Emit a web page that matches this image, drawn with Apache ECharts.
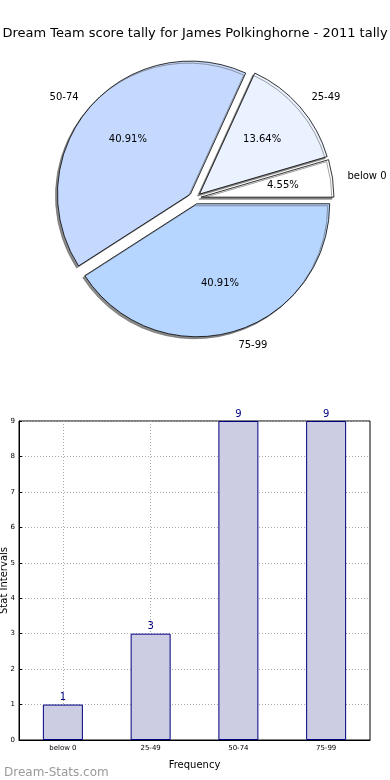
<!DOCTYPE html>
<html>
<head>
<meta charset="utf-8">
<script src="https://cdn.jsdelivr.net/npm/echarts@6/dist/echarts.min.js"></script>
<style>
html,body{margin:0;padding:0;background:#fff;}
#c{width:390px;height:780px;}
</style>
</head>
<body>
<div id="c"></div>
<script>
const categories = ['below 0', '25-49', '50-74', '75-99'];
const counts = [1, 3, 9, 9];
const pieColors = ['#ffffff', '#ebf2ff', '#c5d9ff', '#b6d5ff'];
const yTicks = [0, 1, 2, 3, 4, 5, 6, 7, 8, 9];

const chart = echarts.init(document.getElementById('c'), null, {renderer: 'canvas'});
const FONT = 'DejaVu Sans';
const total = counts.reduce((a, b) => a + b, 0);

const pieData = categories.map((c, i) => ({
  name: c, value: counts[i], selected: true,
  itemStyle: {color: pieColors[i]}
}));
const pieLabelData = categories.map((c, i) => ({name: c, value: counts[i], selected: true}));

const PIE_CENTER = [195, 198];
const PIE_R = 133;

const option = {
  animation: false,
  backgroundColor: '#ffffff',
  title: [
    {text: 'Dream Team score tally for James Polkinghorne - 2011 tally', left: 'center', top: 22,
     textStyle: {fontFamily: FONT, fontSize: 13, fontWeight: 'normal', color: '#000'}},
    {text: 'Dream-Stats.com', left: -1, top: 762,
     textStyle: {fontFamily: FONT, fontSize: 12, fontWeight: 'normal', color: '#999'}}
  ],
  grid: {left: 19, right: 20, top: 421, bottom: 40, containLabel: false, outerBoundsMode: 'none',
    show: true, borderColor: '#000', borderWidth: 1, backgroundColor: 'transparent'},
  xAxis: {
    type: 'category', data: categories,
    name: 'Frequency', nameLocation: 'middle', nameGap: 20, nameMoveOverlap: false,
    nameTextStyle: {fontFamily: FONT, fontSize: 10, color: '#000'},
    axisLine: {lineStyle: {color: '#000'}},
    axisTick: {alignWithLabel: true, inside: true, length: 3, lineStyle: {color: '#000'}},
    axisLabel: {fontFamily: FONT, fontSize: 7, color: '#000', margin: 5},
    splitLine: {show: true, alignWithLabel: true, lineStyle: {color: '#aaa', type: [1, 2], width: 1}}
  },
  yAxis: {
    type: 'value', min: 0, max: 9, interval: 1,
    name: 'Stat Intervals', nameLocation: 'middle', nameGap: 10, nameRotate: 90, nameMoveOverlap: false,
    nameTextStyle: {fontFamily: FONT, fontSize: 10, color: '#000'},
    axisLine: {show: true, lineStyle: {color: '#000'}},
    axisTick: {show: true, inside: true, length: 3, lineStyle: {color: '#000'}},
    axisLabel: {fontFamily: FONT, fontSize: 7, color: '#000', margin: 4,
      formatter: v => yTicks.includes(v) ? String(v) : ''},
    splitLine: {show: true, lineStyle: {color: '#aaa', type: [1, 2], width: 1}}
  },
  series: [
    {
      type: 'pie', center: PIE_CENTER, radius: [0, PIE_R],
      startAngle: 0, clockwise: false,
      selectedMode: 'multiple', selectedOffset: 6,
      avoidLabelOverlap: false,
      emphasis: {disabled: true},
      itemStyle: {borderColor: '#000', borderWidth: 0.8, shadowColor: 'rgba(90,90,90,0.7)', shadowOffsetX: -2, shadowOffsetY: 2, shadowBlur: 0},
      label: {show: true, position: 'outside', formatter: '{b}', fontFamily: FONT, fontSize: 10, color: '#000', distanceToLabelLine: 0},
      labelLine: {show: false, length: 15, length2: 0},
      data: pieData
    },
    {
      type: 'pie', center: PIE_CENTER, radius: [0, PIE_R * 1.2],
      startAngle: 0, clockwise: false,
      selectedMode: 'multiple', selectedOffset: 6,
      avoidLabelOverlap: false, silent: true,
      emphasis: {disabled: true},
      itemStyle: {color: 'rgba(0,0,0,0)', borderWidth: 0},
      label: {show: true, position: 'inside', fontFamily: FONT, fontSize: 10, color: '#000',
        formatter: p => (p.value / total * 100).toFixed(2) + '%'},
      labelLine: {show: false},
      data: pieLabelData
    },
    {
      type: 'bar', data: counts, barWidth: 40,
      itemStyle: {color: '#cccce3', borderColor: '#000080', borderWidth: 1},
      label: {show: true, position: 'top', distance: 2, fontFamily: FONT, fontSize: 10, color: '#000080'},
      emphasis: {disabled: true}
    }
  ]
};
chart.setOption(option);
</script>
</body>
</html>
